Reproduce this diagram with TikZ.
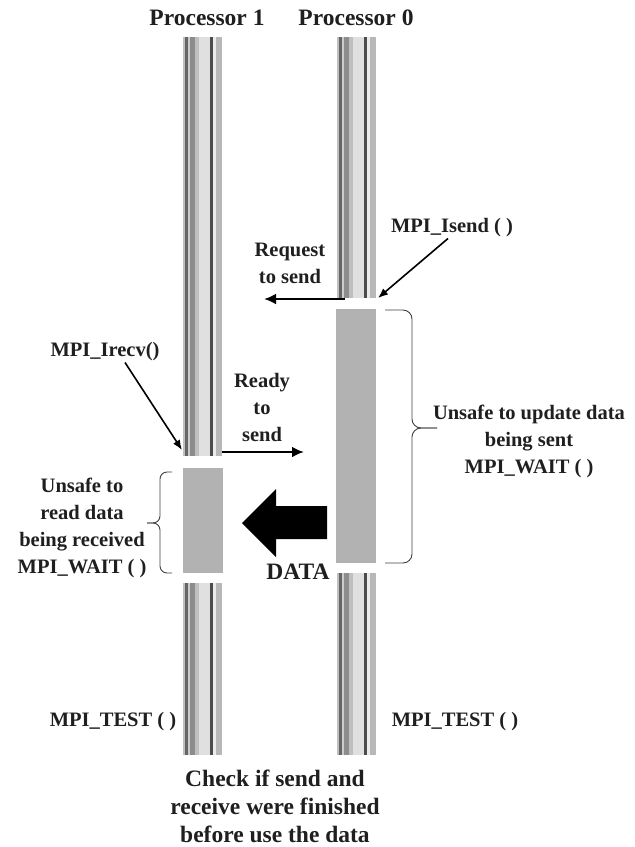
\documentclass[tikz,border=0pt]{standalone}
\usepackage{fontspec}
\setmainfont{Liberation Serif}
\usetikzlibrary{arrows.meta}

% striped time line of one processor
\newcommand\pillar[3]{%
	\foreach \a/\b/\g in {0/2/25, 2/5/60, 5/7/20, 7/12/45, 12/16/25, 16/27/12, 27/30/70, 30/33/8, 33/39/28}
		\fill[black!\g] (#1+\a,#2) rectangle (#1+\b,#3);
}

\tikzset{
	lbl/.style={font=\bfseries\fontsize{20.5}{27}\selectfont, align=center, text=black!88, inner sep=1pt},
	head/.style={font=\bfseries\fontsize{23.5}{26}\selectfont, text=black!88, inner sep=1pt},
	busy/.style={fill=black!30, minimum width=40pt, inner sep=0pt},
	msg/.style={line width=2.8pt, -{Latex[length=12pt,width=11pt]}},
	pointer/.style={line width=1.6pt, -{Latex[length=10pt,width=8pt]}},
	brc/.style={line width=0.9pt, black!75, rounded corners=9pt}
}

\begin{document}
\begin{tikzpicture}[x=1pt, y=-1pt]
	\useasboundingbox (0,0) rectangle (635,847);

	% time lines
	\pillar{183}{37}{456}
	\pillar{183}{583}{755}
	\pillar{337}{37}{298}
	\pillar{337}{573}{755}

	\node[head] (proc1) at (207,18) {Processor 1};
	\node[head] (proc0) at (356,18) {Processor 0};

	% waiting buffers
	\node[busy, minimum height=254pt] (buf0) at (355.5,436) {};
	\node[busy, minimum height=105pt] (buf1) at (202.5,520.5) {};

	\coordinate (p0end) at (378,298);
	\coordinate (p0req) at (345,299);
	\coordinate (reqtip) at (264,299);
	\coordinate (p1end) at (182,450);
	\coordinate (p1rdy) at (222,452);
	\coordinate (rdytip) at (304,452);

	% labels
	\node[lbl] (isend) at (452,228) {MPI\_Isend ( )};
	\node[lbl] (request) at (290,263) {Request\\to send};
	\node[lbl] (irecv) at (105,352) {MPI\_Irecv()};
	\node[lbl] (ready) at (262,407) {Ready\\to\\send};
	\node[lbl] (unsafe0) at (529,441) {Unsafe to update data\\being sent\\MPI\_WAIT ( )};
	\node[lbl] (unsafe1) at (82,528) {Unsafe to\\read data\\being received\\MPI\_WAIT ( )};
	\node[head] (data) at (298,572) {DATA};
	\node[lbl] (test1) at (113,722) {MPI\_TEST ( )};
	\node[lbl] (test0) at (455,722) {MPI\_TEST ( )};
	\node[lbl, font=\bfseries\fontsize{23.5}{28}\selectfont] (check) at (275,806) {Check if send and\\receive were finished\\before use the data};

	% messages
	\draw[msg] (p0req) -- (reqtip);
	\draw[msg] (p1rdy) -- (rdytip);
	\draw[pointer] ([xshift=-4pt]isend.south) -- (p0end);
	\draw[pointer] ([xshift=20pt]irecv.south) -- (p1end);

	% data transfer
	\fill[black] (327,506) -- (276,506) -- (276,489) -- (242,523) -- (276,557) -- (276,539) -- (327,539) -- cycle;

	% braces
	\draw[brc] (385,310) -| (412,428) -- (437,428);
	\draw[brc] (385,563) -| (412,428) -- (437,428);
	\draw[brc, rounded corners=7pt] (172,472) -| (160,523) -- (147,523);
	\draw[brc, rounded corners=7pt] (172,573) -| (160,523) -- (147,523);
\end{tikzpicture}
\end{document}
